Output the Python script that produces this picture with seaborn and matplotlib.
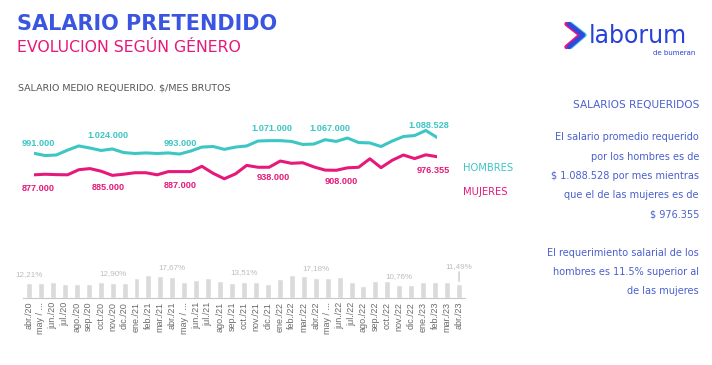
import matplotlib.pyplot as plt
import seaborn as sns
import pandas as pd
from matplotlib.lines import Line2D

sns.set_style("white")
plt.rcParams['font.family'] = ['DejaVu Sans']

# Data
meses = ['abr./20', 'may / ...', 'jun./20', 'jul./20', 'ago./20', 'sep./20', 'oct./20', 'nov./20', 'dic./20',
         'ene./21', 'feb./21', 'mar./21', 'abr./21', 'may / ...', 'jun./21', 'jul./21', 'ago./21', 'sep./21',
         'oct./21', 'nov./21', 'dic./21', 'ene./22', 'feb./22', 'mar./22', 'abr./22', 'may / ...', 'jun./22',
         'jul./22', 'ago./22', 'sep./22', 'oct./22', 'nov./22', 'dic./22', 'ene./23', 'feb./23', 'mar./23',
         'abr./23']
hombres = [991, 979, 982, 1008, 1030, 1019, 1006, 1014, 995, 990, 993, 990, 993, 987, 1003, 1024, 1027,
           1012, 1024, 1030, 1056, 1058, 1058, 1054, 1038, 1040, 1063, 1054, 1072, 1048, 1046, 1027, 1056,
           1080, 1085, 1112, 1075]
mujeres = [877, 880, 878, 877, 904, 910, 896, 874, 880, 888, 888, 877, 894, 894, 894, 922, 885, 856, 882,
           927, 917, 917, 950, 938, 941, 919, 902, 901, 914, 917, 962, 915, 954, 982, 963, 983, 973]
brecha = [12.21, 12.8, 13.1, 11.7, 11.4, 11.7, 13.1, 12.90, 12.5, 16.5, 19.4, 18.8, 17.67, 13.7, 15.4, 17.1,
          14.3, 12.3, 13.51, 13.1, 11.7, 15.7, 19.4, 18.8, 17.18, 17.1, 18.0, 13.1, 10.3, 14.5, 14.5, 10.76,
          10.8, 13.1, 13.7, 13.7, 11.49]

etiquetas_h = ['991.000', '1.024.000', '993.000', '1.071.000', '1.067.000', '1.088.528']
idx_h = [0, 7, 13, 21, 26, 35]
etiquetas_m = ['877.000', '885.000', '887.000', '938.000', '908.000', '976.355']
idx_m = [0, 7, 13, 21, 27, 36]
idx_brecha = [0, 7, 12, 18, 24, 31, 36]

TEAL = '#3cc6c4'
PINK = '#e6197b'
BLUE = '#3a55e0'
PANEL = '#4a60cc'

W, H = 712, 365


def fx(px):
    return px / W


def fy(py):
    return 1 - py / H


fig = plt.figure(figsize=(7.12, 3.65), dpi=100)

# Line chart
ax_l = fig.add_axes([fx(34), fy(190), (437 - 34) / W, (190 - 120) / H])
df = pd.DataFrame({'i': list(range(len(meses))), 'hombres': hombres, 'mujeres': mujeres})
sns.lineplot(data=df, x='i', y='hombres', color=TEAL, lw=2.2, ax=ax_l)
sns.lineplot(data=df, x='i', y='mujeres', color=PINK, lw=2.2, ax=ax_l)
ax_l.set_xlim(0, 36)
ax_l.set_ylim(796.5, 1167.5)
ax_l.axis('off')

off_h = [(4, 10), (-4, 13), (1, 11), (3, 12.5), (5, 11), (3, 5)]
for t, i, o in zip(etiquetas_h, idx_h, off_h):
    ax_l.annotate(t, (i, hombres[i]), xytext=o, textcoords='offset pixels', ha='center', va='center',
                  color=TEAL, fontsize=6.6, fontweight='bold', family='Liberation Sans', annotation_clip=False)
off_m = [(4, -13.5), (-4, -12), (1, -13.7), (4, -10), (5, -11), (-4, -13.7)]
for t, i, o in zip(etiquetas_m, idx_m, off_m):
    ax_l.annotate(t, (i, mujeres[i]), xytext=o, textcoords='offset pixels', ha='center', va='center',
                  color=PINK, fontsize=6.6, fontweight='bold', family='Liberation Sans', annotation_clip=False)

fig.text(fx(463), fy(168), 'HOMBRES', color=TEAL, fontsize=7.2, va='center')
fig.text(fx(463), fy(192), 'MUJERES', color=PINK, fontsize=7.2, va='center')

# Bar chart
ax_b = fig.add_axes([fx(23), fy(297.7), (465 - 23) / W, 42.7 / H])
dfb = pd.DataFrame({'mes': [f'{i}' for i in range(len(meses))], 'brecha': brecha})
sns.barplot(data=dfb, x='mes', y='brecha', color='#dadada', width=0.5, saturation=1, ax=ax_b)
ax_b.set_xlim(-0.5, 36.5)
ax_b.set_ylim(0, 36.5)
ax_b.set_xticks(range(len(meses)))
ax_b.set_xticklabels(meses, rotation=90, fontsize=6.5, color='#6a6a6a', family='Liberation Sans')
ax_b.tick_params(axis='x', length=0, pad=3)
ax_b.set_yticks([])
ax_b.set_xlabel('')
ax_b.set_ylabel('')
for s in ['top', 'right', 'left']:
    ax_b.spines[s].set_visible(False)
ax_b.spines['bottom'].set_color('#c8c8c8')
ax_b.spines['bottom'].set_linewidth(0.8)
for i in idx_brecha:
    txt = f'{brecha[i]:.2f}%'.replace('.', ',')
    dy = 18 if i == 36 else 9
    ax_b.annotate(txt, (i, brecha[i]), xytext=(0, dy), textcoords='offset pixels', ha='center',
                  va='center', color='#bdbdbd', fontsize=5.8, family='Liberation Sans',
                  annotation_clip=False)
ax_b.annotate('', (36, brecha[36]), xytext=(36, brecha[36] + 13), textcoords='data',
              arrowprops=dict(arrowstyle='-', color='#bdbdbd', lw=0.8), annotation_clip=False)

# Titles
fig.text(fx(17), fy(24), 'SALARIO PRETENDIDO', color=BLUE, fontsize=15, fontweight='bold', va='center')
fig.text(fx(17), fy(48), 'EVOLUCION SEGÚN GÉNERO', color=PINK, fontsize=11.3, va='center')
fig.text(fx(18), fy(88), 'SALARIO MEDIO REQUERIDO. $/MES BRUTOS', color='#555555', fontsize=6.8, va='center')

# Logo
fig.text(fx(589), fy(36), 'laborum', color='#2840d8', fontsize=17, va='center')
fig.text(fx(695), fy(53), 'de bumeran', color='#2840d8', fontsize=5, va='center', ha='right')
for dx, c in [(-2.5, PINK), (1.5, '#35c8e0'), (0, '#3048e0')]:
    fig.add_artist(Line2D([fx(569 + dx), fx(583 + dx), fx(569 + dx)], [fy(24), fy(35), fy(47)],
                          color=c, lw=3.2, solid_capstyle='round', solid_joinstyle='round'))

# Right panel
fig.text(fx(699), fy(105), 'SALARIOS REQUERIDOS', color=PANEL, fontsize=7.6, ha='right', va='center')
lineas = ['El salario promedio requerido', 'por los hombres es de', '$ 1.088.528 por mes mientras',
          'que el de las mujeres es de', '$ 976.355', '', 'El requerimiento salarial de los',
          'hombres es 11.5% superior al', 'de las mujeres']
for k, t in enumerate(lineas):
    fig.text(fx(699), fy(137.3 + 19.25 * k), t, color=PANEL, fontsize=7.0, ha='right', va='center')

fig.savefig('out.png', dpi=100)
